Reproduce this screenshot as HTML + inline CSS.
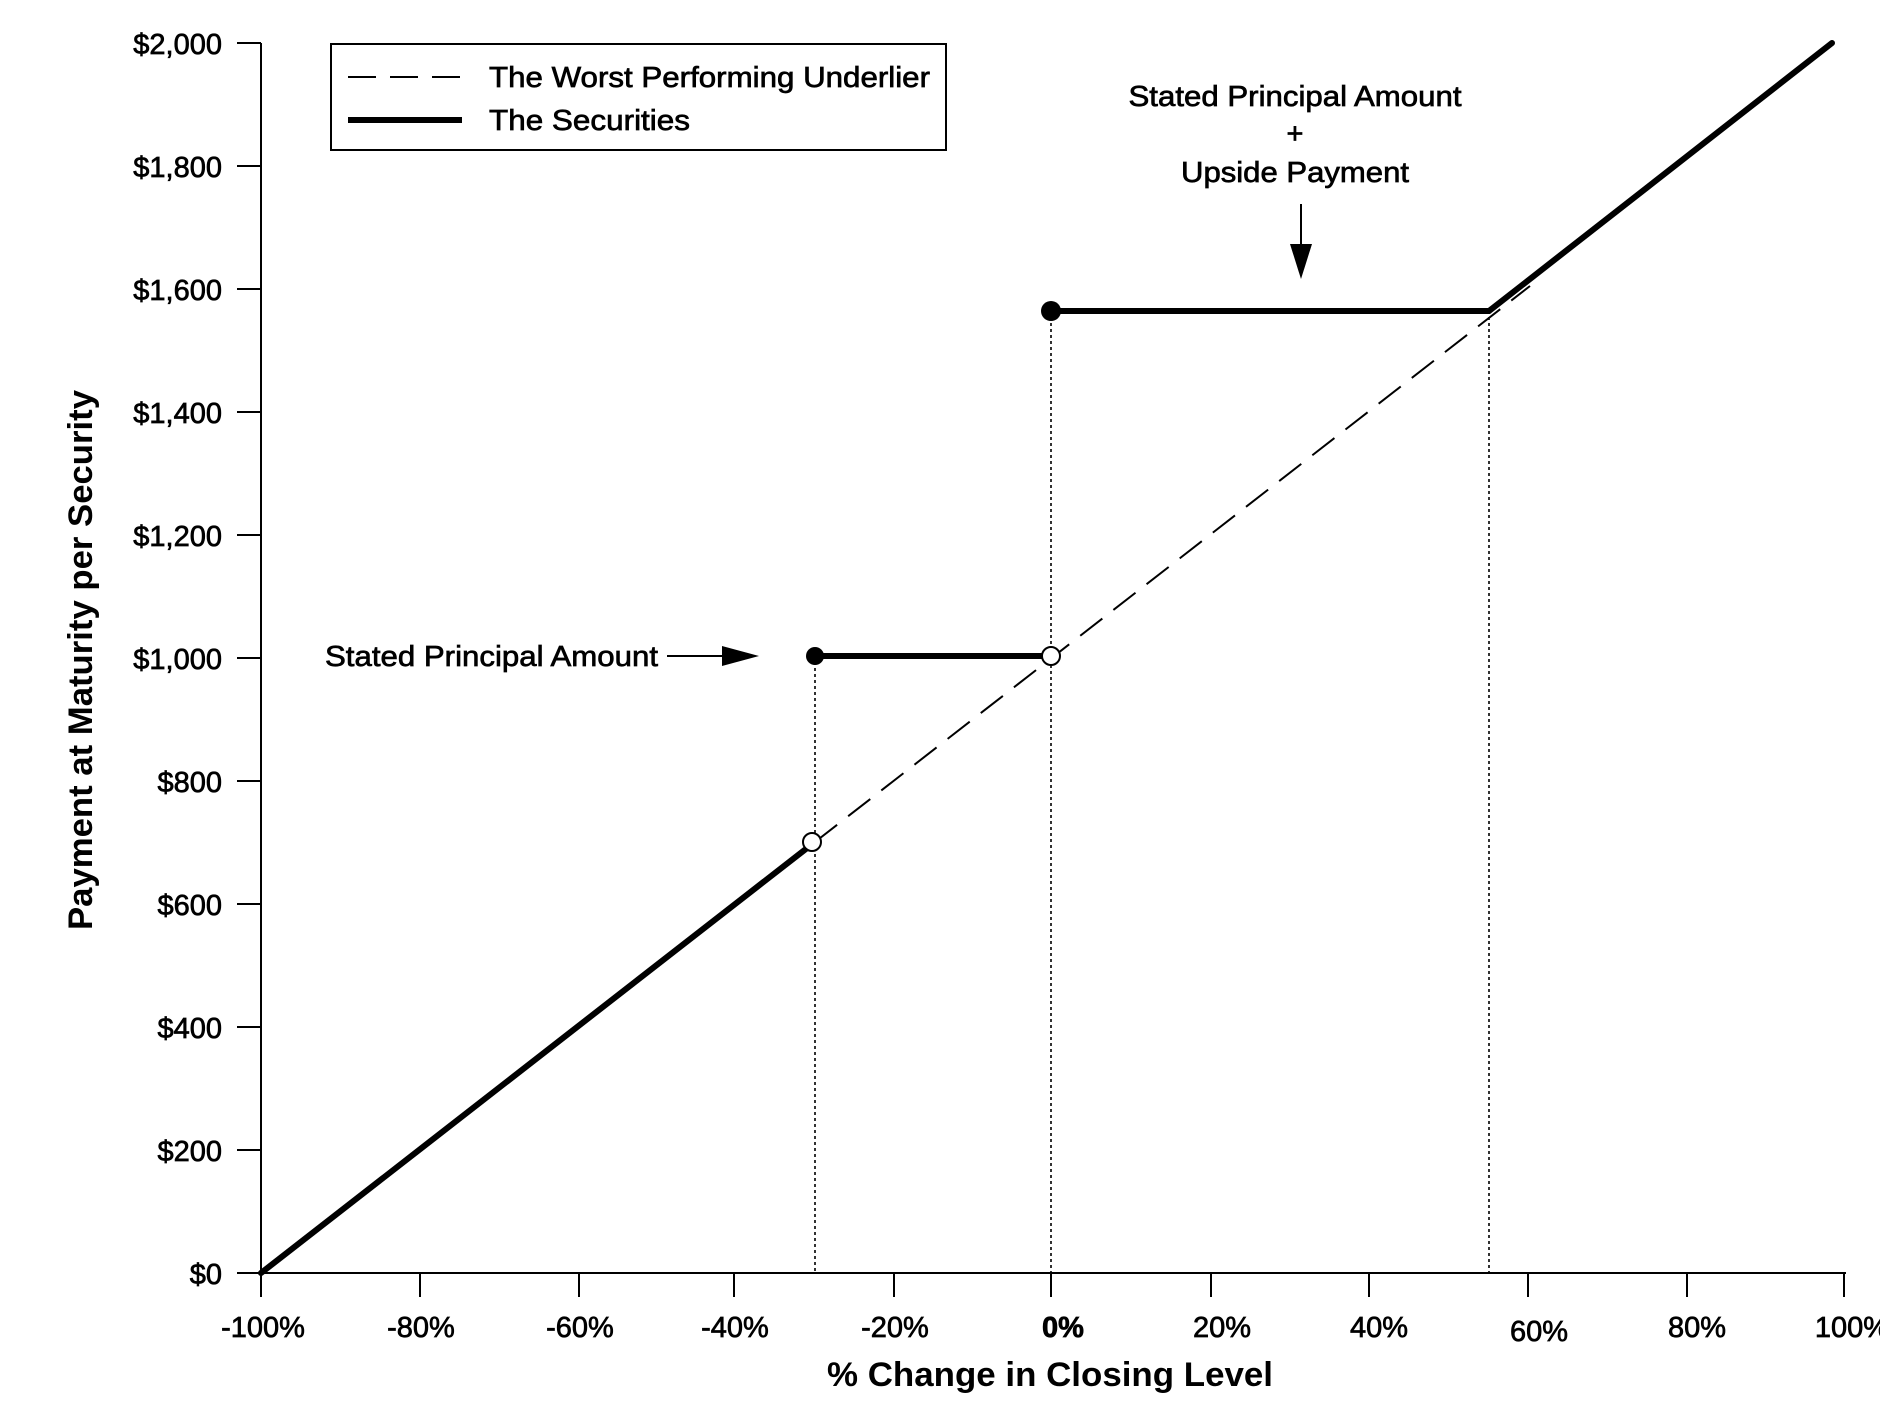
<!DOCTYPE html>
<html><head><meta charset="utf-8"><style>html,body{margin:0;padding:0;background:#fff}svg{display:block}</style></head>
<body>
<svg width="1880" height="1420" viewBox="0 0 1880 1420" xmlns="http://www.w3.org/2000/svg" font-family="'Liberation Sans', Arial, sans-serif" fill="#000">
<rect width="1880" height="1420" fill="#fff"/>
<line x1="261" y1="43" x2="261" y2="1273" stroke="#000" stroke-width="2"/>
<line x1="261" y1="1273" x2="1846" y2="1273" stroke="#000" stroke-width="2"/>
<g stroke="#000" stroke-width="2">
<line x1="237" y1="43" x2="261" y2="43"/><line x1="237" y1="166" x2="261" y2="166"/><line x1="237" y1="289" x2="261" y2="289"/><line x1="237" y1="412" x2="261" y2="412"/><line x1="237" y1="535" x2="261" y2="535"/><line x1="237" y1="658" x2="261" y2="658"/><line x1="237" y1="781" x2="261" y2="781"/><line x1="237" y1="904" x2="261" y2="904"/><line x1="237" y1="1027" x2="261" y2="1027"/><line x1="237" y1="1150" x2="261" y2="1150"/><line x1="237" y1="1273" x2="261" y2="1273"/>
<line x1="261" y1="1273" x2="261" y2="1297"/><line x1="420" y1="1273" x2="420" y2="1297"/><line x1="579" y1="1273" x2="579" y2="1297"/><line x1="734" y1="1273" x2="734" y2="1297"/><line x1="894" y1="1273" x2="894" y2="1297"/><line x1="1051" y1="1273" x2="1051" y2="1297"/><line x1="1211" y1="1273" x2="1211" y2="1297"/><line x1="1369" y1="1273" x2="1369" y2="1297"/><line x1="1528" y1="1273" x2="1528" y2="1297"/><line x1="1687" y1="1273" x2="1687" y2="1297"/><line x1="1844" y1="1273" x2="1844" y2="1297"/>
</g>
<g font-size="29" text-anchor="end" stroke="#000" stroke-width="0.7">
<text x="222" y="54">$2,000</text><text x="222" y="177">$1,800</text><text x="222" y="300">$1,600</text><text x="222" y="423">$1,400</text><text x="222" y="546">$1,200</text><text x="222" y="669">$1,000</text><text x="222" y="792">$800</text><text x="222" y="915">$600</text><text x="222" y="1038">$400</text><text x="222" y="1161">$200</text><text x="222" y="1284">$0</text>
</g>
<g font-size="29" text-anchor="middle" stroke="#000" stroke-width="0.7">
<text x="263" y="1337">-100%</text><text x="421" y="1337">-80%</text><text x="580" y="1337">-60%</text><text x="735" y="1337">-40%</text><text x="895" y="1337">-20%</text><text x="1063" y="1337" font-weight="bold">0%</text><text x="1222" y="1337">20%</text><text x="1379" y="1337">40%</text><text x="1539" y="1341">60%</text><text x="1697" y="1337">80%</text><text x="1852" y="1337">100%</text>
</g>
<text x="1050" y="1386" font-size="34" font-weight="bold" text-anchor="middle" textLength="446" lengthAdjust="spacingAndGlyphs">% Change in Closing Level</text>
<text transform="translate(92,660) rotate(-90)" font-size="34" font-weight="bold" text-anchor="middle" textLength="540" lengthAdjust="spacingAndGlyphs">Payment at Maturity per Security</text>
<g stroke="#000" stroke-width="1.6" stroke-dasharray="3,3">
<line x1="815" y1="656" x2="815" y2="1273"/><line x1="1051" y1="311" x2="1051" y2="1273"/><line x1="1489" y1="311" x2="1489" y2="1273"/>
</g>
<line x1="815" y1="842" x2="1530" y2="286" stroke="#000" stroke-width="2" stroke-dasharray="28,14"/>
<g stroke="#000" stroke-width="6" fill="none" stroke-linecap="round">
<line x1="261" y1="1273" x2="811" y2="845"/>
<line x1="815" y1="656" x2="1051" y2="656"/>
<line x1="1051" y1="311" x2="1489" y2="311"/>
<line x1="1489" y1="311" x2="1832" y2="43"/>
</g>
<circle cx="815" cy="656" r="9" fill="#000"/>
<circle cx="1051" cy="656" r="9" fill="#fff" stroke="#000" stroke-width="2"/>
<circle cx="812" cy="842" r="9" fill="#fff" stroke="#000" stroke-width="2"/>
<circle cx="1051" cy="311" r="10" fill="#000"/>
<rect x="331" y="44" width="615" height="106" fill="#fff" stroke="#000" stroke-width="2"/>
<line x1="348" y1="77" x2="462" y2="77" stroke="#000" stroke-width="2" stroke-dasharray="28,14"/>
<line x1="348" y1="120" x2="462" y2="120" stroke="#000" stroke-width="6"/>
<g stroke="#000" stroke-width="0.7">
<text x="489" y="87" font-size="29" textLength="441" lengthAdjust="spacingAndGlyphs">The Worst Performing Underlier</text>
<text x="489" y="130" font-size="29" textLength="201" lengthAdjust="spacingAndGlyphs">The Securities</text>
<g font-size="29" text-anchor="middle">
<text x="1295" y="106" textLength="333" lengthAdjust="spacingAndGlyphs">Stated Principal Amount</text>
<text x="1295" y="143">+</text>
<text x="1295" y="182" textLength="228" lengthAdjust="spacingAndGlyphs">Upside Payment</text>
</g>
<text x="325" y="666" font-size="29" textLength="333" lengthAdjust="spacingAndGlyphs">Stated Principal Amount</text>
</g>
<line x1="1301" y1="204" x2="1301" y2="255" stroke="#000" stroke-width="2"/>
<polygon points="1290,244 1312,244 1301,279" fill="#000"/>
<line x1="667" y1="656" x2="730" y2="656" stroke="#000" stroke-width="2"/>
<polygon points="722,646 722,666 759,656" fill="#000"/>
</svg>
</body></html>
